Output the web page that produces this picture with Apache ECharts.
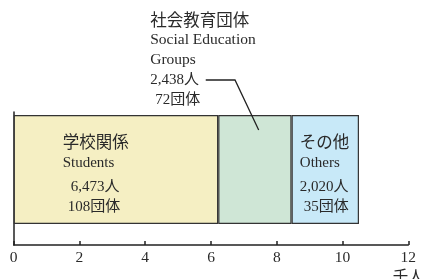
<!DOCTYPE html>
<html><head><meta charset="utf-8">
<script src="https://cdn.jsdelivr.net/npm/echarts/dist/echarts.min.js"></script>
<style>html,body{margin:0;padding:0;background:#fff}#c{width:424px;height:279px}</style>
</head><body><div id="c"></div>
<script>
// ---- data ----
const segNamesJa = ['学校関係', '社会教育団体', 'その他'];
const segNamesEn = [['Students'], ['Social Education', 'Groups'], ['Others']];
const segPeople = ['6,473人', '2,438人', '2,020人'];
const segGroups = ['108団体', '72団体', '35団体'];
const segValues = [6.22, 2.23, 2.05];   // bar lengths (千人)
const xTicks = [0, 2, 4, 6, 8, 10, 12];
const unitLabel = '千人';
const category = [''];

// ---- styles ----
const segColors = ['#f5efc3', '#cfe6d6', '#c8e9f8'];
const SERIF = "'Liberation Serif', 'Noto Sans CJK JP', serif";
const CJK = "'Noto Sans CJK JP', sans-serif";
const TXT = '#2a2a2a';
const labelPos = [[49, 17], [-68, -105], [8.3, 17]];
const numPad = [[8, 5], [0, 5], [0, 4]];

const rich = {
  c: { fontFamily: CJK, fontSize: 16.5, lineHeight: 20, color: TXT },
  l: { fontFamily: SERIF, fontSize: 15.5, lineHeight: 20, color: TXT },
  l2: { fontFamily: SERIF, fontSize: 15, lineHeight: 22, color: TXT },
  n1: { fontFamily: SERIF, fontSize: 15, lineHeight: 26, color: TXT },
  n1b: { fontFamily: SERIF, fontSize: 15, lineHeight: 21, color: TXT },
  n2: { fontFamily: SERIF, fontSize: 15, lineHeight: 15, color: TXT },
  n2b: { fontFamily: SERIF, fontSize: 15, lineHeight: 19, color: TXT }
};
function pad(n) { return n > 0 ? { padding: [0, 0, 0, n] } : {}; }

function buildLabel(i) {
  const lines = [];
  lines.push('{c|' + segNamesJa[i] + '}');
  const top = i === 1;
  segNamesEn[i].forEach(t => lines.push('{' + (top ? 'l' : 'l2') + '|' + t + '}'));
  lines.push('{' + (top ? 'n1b' : 'n1') + i + '|' + segPeople[i] + '}');
  lines.push('{' + (top ? 'n2b' : 'n2') + i + '|' + segGroups[i] + '}');
  return lines.join('\n');
}
segValues.forEach((_, i) => {
  const top = i === 1;
  rich[(top ? 'n1b' : 'n1') + i] = Object.assign({}, rich[top ? 'n1b' : 'n1'], pad(numPad[i][0]));
  rich[(top ? 'n2b' : 'n2') + i] = Object.assign({}, rich[top ? 'n2b' : 'n2'], pad(numPad[i][1]));
});

const chart = echarts.init(document.getElementById('c'), null, { renderer: 'canvas' });
const axisLineStyle = { color: '#222', width: 1.5 };
chart.setOption({
  animation: false,
  grid: [
    { left: 13.7, right: 15.7, top: 94, bottom: 34, containLabel: false, outerBoundsMode: 'none' },
    { left: 13.7, right: 15.7, top: 112, bottom: 34, containLabel: false, outerBoundsMode: 'none' }
  ],
  xAxis: [
    {
      type: 'value', gridIndex: 0, min: xTicks[0], max: xTicks[xTicks.length - 1],
      interval: xTicks[1] - xTicks[0],
      axisLine: { show: true, lineStyle: axisLineStyle },
      axisTick: { show: true, inside: true, length: 4, lineStyle: axisLineStyle },
      splitLine: { show: false },
      axisLabel: {
        margin: 3, fontFamily: SERIF, fontSize: 15.5, lineHeight: 20, color: TXT,
        formatter: v => v === xTicks[xTicks.length - 1] ? v + '\n' + unitLabel : String(v)
      }
    },
    { type: 'value', gridIndex: 1, min: 0, max: 12, show: false }
  ],
  yAxis: [
    { type: 'category', gridIndex: 0, data: category, show: false },
    {
      type: 'category', gridIndex: 1, data: category,
      axisLine: { show: true, lineStyle: axisLineStyle },
      axisTick: { show: false }, axisLabel: { show: false }
    }
  ],
  series: segValues.map((v, i) => ({
    type: 'bar', stack: 'total', xAxisIndex: 0, yAxisIndex: 0,
    barWidth: 109,
    data: [v],
    itemStyle: { color: segColors[i], borderColor: '#333', borderWidth: 1.2 },
    label: {
      show: true, position: labelPos[i], align: 'left', verticalAlign: 'top',
      formatter: () => buildLabel(i), rich: rich
    },
    z: 2
  }))
});

// leader line for the social-education annotation
const barCenterY = chart.convertToPixel({ yAxisIndex: 0 }, 0);
const barTop = barCenterY - 109 / 2;
const xp = v => chart.convertToPixel({ xAxisIndex: 0 }, v);
chart.setOption({
  graphic: [{
    type: 'polyline', z: 10,
    shape: { points: [[xp(5.84), barTop - 35], [xp(6.73), barTop - 35], [xp(7.45), barTop + 15]] },
    style: { stroke: '#222', lineWidth: 1.3, fill: null }
  }]
});
</script></body></html>
